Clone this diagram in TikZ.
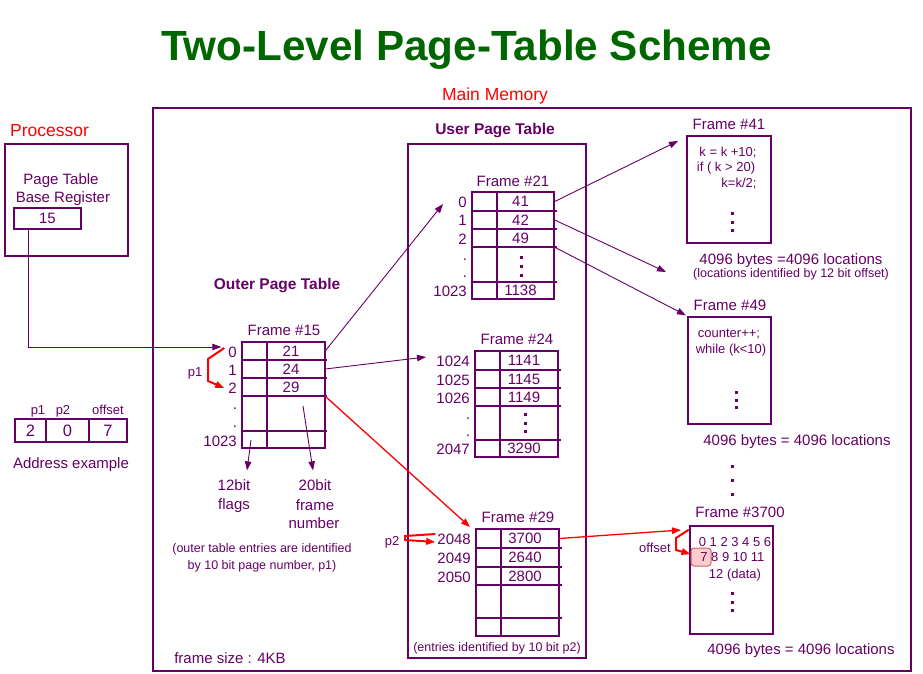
\documentclass[tikz,border=0pt]{standalone}
\usepackage{fontspec}
\setmainfont{Liberation Sans}
\usetikzlibrary{arrows.meta,positioning}
\definecolor{memPurple}{HTML}{660066}
\definecolor{memRed}{HTML}{FF0000}
\definecolor{memGreen}{HTML}{006600}
\definecolor{memPink}{HTML}{FFCCCC}
\definecolor{memRose}{HTML}{C86464}
% three square dots in a column: x, y of the middle dot, spacing
\newcommand{\dotcolumn}[3]{%
  \foreach \k in {-1,0,1} \fill[memPurple] (#1-1.5,{#2+\k*#3-1.5}) rectangle +(3,3);}

\begin{document}
\begin{tikzpicture}[x=1pt,y=-1pt,
    lbl/.style={text=memPurple,inner sep=0pt,text depth=0pt,text height=10.8pt,font=\fontsize{15}{18}\selectfont},
    titlelbl/.style={lbl,text=memGreen,text height=30.2pt,font=\bfseries\fontsize{42.2}{46}\selectfont},
    redlbl/.style={lbl,text=memRed,text height=12.6pt,font=\fontsize{17.5}{20}\selectfont},
    hdr/.style={lbl,text height=11.2pt,font=\bfseries\fontsize{15.5}{18}\selectfont},
    note/.style={lbl,text height=9pt,font=\fontsize{12.5}{15}\selectfont},
    code/.style={lbl,text height=9.4pt,font=\fontsize{13}{15}\selectfont},
    cell/.style={lbl,minimum width=58pt,minimum height=18pt,execute at begin node={\hspace*{-10pt}}},
    fbox/.style={draw=memPurple,line width=2.5pt,inner sep=0pt},
    tblframe/.style={draw=memPurple,line width=2.5pt},
    rowline/.style={draw=memPurple,line width=1.4pt},
    thickrow/.style={draw=memPurple,line width=2.5pt},
    addrcell/.style={lbl,draw=memPurple,line width=1.4pt,minimum height=23pt,text height=11.5pt,font=\fontsize{16.5}{18}\selectfont},
    ptr/.style={draw=memPurple,line width=0.9pt,-{Triangle[length=9pt,width=6.5pt]}},
    redptr/.style={draw=memRed,line width=1.3pt,-{Triangle[length=9pt,width=6.5pt]}},
    bracket/.style={redptr,line width=2pt}]
  \useasboundingbox (0,0) rectangle (923,673);

  % headings
  \node[titlelbl] (title) at (466.5,45) {Two-Level Page-Table Scheme};
  \node[redlbl] (mainmem) at (495,94) {Main Memory};
  \node[redlbl,anchor=west] (proc) at (10,130) {Processor};

  % big boxes
  \node[fbox,minimum width=758pt,minimum height=563pt] (mem) at (532,389.5) {};
  \node[fbox,minimum width=123pt,minimum height=112pt] (procbox) at (66.5,200) {};
  \node[fbox,minimum width=178pt,minimum height=514pt] (upt) at (497,401) {};

  % processor
  \node[lbl] (ptbr1) at (61,179) {Page Table};
  \node[lbl] (ptbr2) at (63,197) {Base Register};
  \node[fbox,lbl,minimum width=67pt,minimum height=21pt] (reg) at (47.5,218.5) {15};

  % address example
  \node[code] (ap1) at (38,410) {p1};
  \node[code] (ap2) at (63,410) {p2};
  \node[code] (aoff) at (108,410) {offset};
  \node[addrcell,minimum width=31pt] (a1) at (30.5,430.5) {2};
  \node[addrcell,minimum width=43pt] (a2) at (67.5,430.5) {0};
  \node[addrcell,minimum width=38pt] (a3) at (108,430.5) {7};
  \node[lbl] (aex) at (71,463) {Address example};

  % outer page table (frame 15)
  \node[hdr] (outerhdr) at (277,284) {Outer Page Table};
  \node[lbl] (f15) at (284,330) {Frame \#15};
  \draw[tblframe] (242,342) rectangle (325,448);
  \foreach \y in {360,378,396,431} \draw[rowline] (242,\y) -- (327,\y);
  \draw[rowline] (267,342) -- (267,448);
  \node[cell] (o15a) at (296,351) {21};
  \node[cell] (o15b) at (296,369) {24};
  \node[cell] (o15c) at (296,387) {29};
  \node[lbl,anchor=east] (o15l0) at (237,352) {0};
  \node[lbl,anchor=east] (o15l1) at (237,370) {1};
  \node[lbl,anchor=east] (o15l2) at (237,388) {2};
  \node[lbl] (o15d1) at (235,404) {.};
  \node[lbl] (o15d2) at (235,422) {.};
  \node[lbl,anchor=east] (o15l3) at (237,441) {1023};
  \coordinate (flagsrc) at (251,440);
  \coordinate (numsrc) at (303,406);
  \node[lbl] (flags1) at (234,485) {12bit};
  \node[lbl] (flags2) at (234,504) {flags};
  \node[lbl] (num1) at (315,485) {20bit};
  \node[lbl] (num2) at (315,505) {frame};
  \node[lbl] (num3) at (314,523) {number};
  \node[note] (onote1) at (262,548) {(outer table entries are identified};
  \node[note] (onote2) at (262,565) {by 10 bit page number, p1)};
  \node[code] (p1) at (195,372) {p1};
  \node[lbl] (fsize) at (230,658) {frame size : 4KB};

  % user page table
  \node[hdr] (userhdr) at (495,129) {User Page Table};

  % frame 21
  \node[lbl] (f21) at (513,181) {Frame \#21};
  \draw[tblframe] (472,192) rectangle (554,299);
  \foreach \y in {229,247} \draw[rowline] (472,\y) -- (557,\y);
  \foreach \y in {211,282} \draw[thickrow] (472,\y) -- (557,\y);
  \draw[rowline] (497,192) -- (497,299);
  \node[cell] (t21a) at (525.5,201.5) {41};
  \node[cell] (t21b) at (525.5,220) {42};
  \node[cell] (t21c) at (525.5,238) {49};
  \dotcolumn{521}{266}{9}
  \node[cell] (t21d) at (525.5,290.5) {1138};
  \node[lbl,anchor=east] (t21l0) at (467,202) {0};
  \node[lbl,anchor=east] (t21l1) at (467,220) {1};
  \node[lbl,anchor=east] (t21l2) at (467,239) {2};
  \node[lbl] (t21d1) at (465,255) {.};
  \node[lbl] (t21d2) at (465,272) {.};
  \node[lbl,anchor=east] (t21l3) at (467,291) {1023};

  % frame 24
  \node[lbl] (f24) at (517,339) {Frame \#24};
  \draw[tblframe] (475,351) rectangle (558,457);
  \foreach \y in {370,388,406,440} \draw[rowline] (475,\y) -- (561,\y);
  \draw[rowline] (500,351) -- (500,457);
  \node[cell] (t24a) at (529,360.5) {1141};
  \node[cell] (t24b) at (529,379) {1145};
  \node[cell] (t24c) at (529,397) {1149};
  \dotcolumn{525}{423}{8.5}
  \node[cell] (t24d) at (529,448.5) {3290};
  \node[lbl,anchor=east] (t24l0) at (470,361) {1024};
  \node[lbl,anchor=east] (t24l1) at (470,380) {1025};
  \node[lbl,anchor=east] (t24l2) at (470,398) {1026};
  \node[lbl] (t24d1) at (468,414) {.};
  \node[lbl] (t24d2) at (468,431) {.};
  \node[lbl,anchor=east] (t24l3) at (470,449) {2047};

  % frame 29
  \node[lbl] (f29) at (518,517) {Frame \#29};
  \draw[tblframe] (476,529) rectangle (559,636);
  \foreach \y in {548,567,585} \draw[rowline] (476,\y) -- (562,\y);
  \draw[thickrow] (476,618) -- (562,618);
  \draw[rowline] (501,529) -- (501,636);
  \node[cell] (t29a) at (530,538.5) {3700};
  \node[cell] (t29b) at (530,557.5) {2640};
  \node[cell] (t29c) at (530,576) {2800};
  \node[lbl,anchor=east] (t29l0) at (471,539) {2048};
  \node[lbl,anchor=east] (t29l1) at (471,558) {2049};
  \node[lbl,anchor=east] (t29l2) at (471,577) {2050};
  \node[code] (p2) at (392,541) {p2};
  \node[note] (unote) at (497,647) {(entries identified by 10 bit p2)};

  % frame 41
  \node[lbl] (f41lbl) at (729,124) {Frame \#41};
  \node[fbox,minimum width=84pt,minimum height=107pt] (f41) at (729,189.5) {};
  \node[code] (c41a) at (728,152) {k = k +10;};
  \node[code] (c41b) at (726,167) {if ( k > 20)};
  \node[code] (c41c) at (739,183) {k=k/2;};
  \dotcolumn{732}{222}{8.5}
  \node[lbl] (f41sz) at (791,259) {4096 bytes =4096 locations};
  \node[note] (f41note) at (791,273) {(locations identified by 12 bit offset)};

  % frame 49
  \node[lbl] (f49lbl) at (730,305) {Frame \#49};
  \node[fbox,minimum width=83pt,minimum height=107pt] (f49) at (729.5,370.5) {};
  \node[code] (c49a) at (729,333) {counter++;};
  \node[code] (c49b) at (731,349) {while (k<10)};
  \dotcolumn{736}{400}{7.5}
  \node[lbl] (f49sz) at (797,440) {4096 bytes = 4096 locations};
  \dotcolumn{732}{480}{14}

  % frame 3700
  \node[lbl] (f3700lbl) at (740,512) {Frame \#3700};
  \node[fbox,minimum width=83pt,minimum height=108pt] (f3700) at (731.5,580) {};
  \node[draw=memRose,fill=memPink,line width=1pt,rounded corners=3pt,minimum width=20pt,minimum height=18pt,inner sep=0pt] (hl) at (701,557) {};
  \node[code] (b0) at (735,542) {0 1 2 3 4 5 6};
  \node[code] (b7) at (704,557) {7};
  \node[code,anchor=west] (b8) at (711,557) {8 9 10 11};
  \node[code] (b12) at (735,574) {12 (data)};
  \dotcolumn{732}{602}{8.5}
  \node[lbl] (f3700sz) at (801,649) {4096 bytes = 4096 locations};
  \node[code] (offlbl) at (655,548) {offset};

  % free arrow ends
  \coordinate (in21) at (443,204);
  \coordinate (in24) at (426,357);
  \coordinate (in29) at (470,527);
  \coordinate (in41) at (678,141);
  \coordinate (in41b) at (666,272);
  \coordinate (in3700) at (681,530);

  % connectors
  \draw[ptr] ([xshift=16pt]reg.south west) |- ([xshift=-7pt,yshift=5pt]o15l0.west);
  \draw[bracket] ([xshift=-4pt,yshift=4pt]o15l0.west) -- (208,359) -- (208,381) -- ([xshift=-4pt]o15l2.west);
  \draw[ptr] (o15a.east) -- (in21);
  \draw[ptr] (o15b.east) -- (in24);
  \draw[redptr] (o15c.south east) -- (in29);
  \draw[ptr] (flagsrc) -- ([xshift=13pt,yshift=9pt]flags1.north);
  \draw[ptr] (numsrc) -- ([xshift=-2pt,yshift=9pt]num1.north);
  \draw[ptr] (t21a.east) -- (in41);
  \draw[ptr] (t21b.east) -- (in41b);
  \draw[ptr,shorten >=1pt] (t21c.south east) -- (f49.north west);
  \draw[bracket] ([xshift=-2pt,yshift=5pt]t29l0.west) -- (405,536) -- (405,540) -- ([xshift=-2pt,yshift=-3pt]t29l0.west);
  \draw[redptr] (t29a.east) -- (in3700);
  \draw[bracket] ([yshift=-5pt]f3700.north west) -- (676,538) -- (676,550) -- ([yshift=3pt]hl.west);
\end{tikzpicture}
\end{document}
